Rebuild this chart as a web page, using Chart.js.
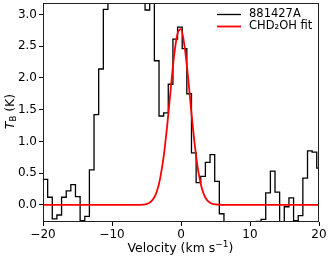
<!DOCTYPE html>
<html>
<head>
<meta charset="utf-8">
<script src="https://cdn.jsdelivr.net/npm/chart.js@4"></script>
<style>
  html, body { margin: 0; padding: 0; background: #fff; }
  canvas { display: block; }
</style>
</head>
<body>
<canvas id="spec" width="331" height="260"></canvas>
<script>
// channel centres (km/s) of the observed spectrum
const velocity = [
  -20.34, -19.66, -18.99, -18.32, -17.65, -16.97, -16.30, -15.63, -14.96, -14.28,
  -13.61, -12.94, -12.27, -11.59, -10.92, -10.25, -9.58, -8.90, -8.23, -7.56,
  -6.89, -6.21, -5.54, -4.87, -4.20, -3.52, -2.85, -2.18, -1.51, -0.83,
  -0.16, 0.51, 1.18, 1.86, 2.53, 3.20, 3.87, 4.55, 5.22, 5.89,
  6.56, 7.24, 7.91, 8.58, 9.25, 9.93, 10.60, 11.27, 11.94, 12.62,
  13.29, 13.96, 14.63, 15.31, 15.98, 16.65, 17.32, 18.00, 18.67, 19.34,
  20.01
];
// brightness temperature (K), 881427A
const tb = [
  0.87, 0.40, 0.12, -0.22, -0.16, 0.12, 0.22, 0.32, 0.13, -0.25,
  -0.18, 0.55, 1.42, 2.14, 3.08, 3.45, 3.70, 3.60, 3.85, 3.90,
  3.75, 3.55, 3.35, 3.07, 3.30, 2.27, 1.40, 1.45, 1.90, 2.61,
  2.80, 2.46, 1.75, 0.82, 0.35, 0.45, 0.67, 0.79, 0.37, -0.14,
  -0.38, -0.45, -0.52, -0.41, -0.47, -0.36, -0.31, -0.26, -0.23, 0.19,
  0.53, 0.20, -0.34, -0.03, 0.11, -0.25, -0.17, 0.42, 0.85, 0.83,
  0.58
];
// CHD2OH fit
const fitVelocity = [
  -20, -8, -6.5, -6, -5.5, -5, -4.5, -4, -3.5, -3, -2.5, -2, -1.5, -1, -0.5,
  0, 0.5, 1, 1.5, 2, 2.5, 3, 3.5, 4, 4.5, 5, 5.5, 6, 8, 20
];
const fitTb = [
  0, 0, 0, 0.001, 0.004, 0.013, 0.037, 0.095, 0.21, 0.43, 0.77, 1.25, 1.81, 2.35, 2.70,
  2.77, 2.51, 2.04, 1.46, 0.94, 0.53, 0.27, 0.12, 0.05, 0.018, 0.006, 0.002, 0, 0, 0
];
const xTicks = [-20, -10, 0, 10, 20];
const yTicks = [0, 0.5, 1, 1.5, 2, 2.5, 3];
const seriesNames = ['881427A', 'CHD\u2082OH fit'];

const FONT = "'DejaVu Sans', sans-serif";

const toXY = (xs, ys) => xs.map((x, i) => ({ x: x, y: ys[i] }));

// draw a run of [text, font, dy] pieces centred on x
function drawPieces(ctx, pieces, cx, y) {
  let w = 0;
  pieces.forEach(p => { ctx.font = p[1]; w += ctx.measureText(p[0]).width; });
  let x = cx - w / 2;
  ctx.textAlign = 'left';
  pieces.forEach(p => {
    ctx.font = p[1];
    ctx.fillText(p[0], x, y + p[2]);
    x += ctx.measureText(p[0]).width;
  });
}

// frame, legend and axis titles drawn like matplotlib
const decor = {
  id: 'decor',
  afterDatasetsDraw(chart) {
    const ctx = chart.ctx;
    const a = chart.chartArea;
    ctx.save();
    ctx.strokeStyle = '#222';
    ctx.lineWidth = 1;
    ctx.strokeRect(Math.round(a.left) + 0.5, Math.round(a.top) + 0.5,
      Math.round(a.right - a.left) - 1, Math.round(a.bottom - a.top) - 1);

    // legend
    const cols = ['#000', '#ff0000'];
    ctx.font = '11.5px ' + FONT;
    ctx.textBaseline = 'middle';
    ctx.fillStyle = '#000';
    seriesNames.forEach((name, i) => {
      const y = 14.5 + i * 12;
      ctx.strokeStyle = cols[i];
      ctx.lineWidth = i === 0 ? 1.3 : 1.8;
      ctx.beginPath();
      ctx.moveTo(217, y);
      ctx.lineTo(241, y);
      ctx.stroke();
      ctx.fillText(name, 249, y);
    });

    // x title
    ctx.textBaseline = 'alphabetic';
    drawPieces(ctx, [
      ['Velocity (km s', '12.5px ' + FONT, 0],
      ['\u22121', '9px ' + FONT, -5],
      [')', '12.5px ' + FONT, 0]
    ], 180.5, 251.5);

    // y title: T_B (K)
    ctx.translate(13.5, 111.5);
    ctx.rotate(-Math.PI / 2);
    drawPieces(ctx, [
      ['T', 'italic 12.5px ' + FONT, 0],
      ['B', '8.5px ' + FONT, 2.5],
      [' (K)', '12.5px ' + FONT, 0]
    ], 0, 0);
    ctx.restore();
  }
};

new Chart(document.getElementById('spec').getContext('2d'), {
  type: 'line',
  plugins: [decor],
  data: {
    datasets: [
      {
        label: seriesNames[1],
        data: toXY(fitVelocity, fitTb),
        borderColor: '#ff0000',
        borderWidth: 1.8,
        pointRadius: 0,
        cubicInterpolationMode: 'monotone',
        clip: 0,
        order: 0
      },
      {
        label: seriesNames[0],
        data: toXY(velocity, tb),
        borderColor: '#000',
        borderWidth: 1.3,
        pointRadius: 0,
        stepped: 'middle',
        clip: 0,
        order: 1
      }
    ]
  },
  options: {
    responsive: false,
    animation: false,
    events: [],
    layout: { padding: { top: 3, right: 12, left: 0, bottom: 0 } },
    plugins: { legend: { display: false }, tooltip: { enabled: false } },
    scales: {
      x: {
        type: 'linear',
        min: -20,
        max: 20,
        afterBuildTicks: s => { s.ticks = xTicks.map(v => ({ value: v })); },
        afterFit: s => { s.height = 38; s.paddingLeft = 0; s.paddingRight = 0; },
        border: { display: false },
        grid: { drawOnChartArea: false, drawTicks: true, tickLength: 4, color: '#000' },
        ticks: {
          color: '#000',
          padding: 2,
          maxRotation: 0,
          font: { family: FONT, size: 12 },
          callback: v => v < 0 ? '\u2212' + Math.abs(v) : String(v)
        }
      },
      y: {
        type: 'linear',
        min: -0.27,
        max: 3.18,
        afterBuildTicks: s => { s.ticks = yTicks.map(v => ({ value: v })); },
        afterFit: s => { s.width = 43; s.paddingTop = 0; s.paddingBottom = 0; },
        border: { display: false },
        grid: { drawOnChartArea: false, drawTicks: true, tickLength: 4, color: '#000' },
        ticks: {
          color: '#000',
          padding: 2,
          font: { family: FONT, size: 12 },
          callback: v => v.toFixed(1)
        }
      }
    }
  }
});
</script>
</body>
</html>
